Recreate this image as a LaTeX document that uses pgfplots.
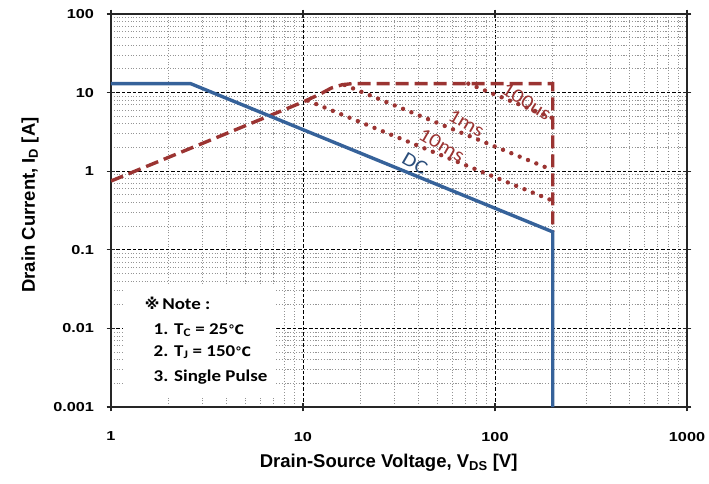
\documentclass[border=0pt]{standalone}
\usepackage{fontspec}
\setmainfont{Liberation Sans}
\newfontfamily\tickfont[FakeStretch=1.25]{Liberation Sans}
\newfontfamily\notefont[FakeStretch=1.15]{Carlito}
\newfontfamily\lblfont[FakeStretch=1.15]{Carlito}
\newfontfamily\symfont{DejaVu Sans}
\usepackage{pgfplots}
\pgfplotsset{compat=1.18}
\definecolor{dcblue}{RGB}{54,98,154}
\definecolor{soared}{RGB}{155,52,50}
\begin{document}
\begin{tikzpicture}
\begin{axis}[
  name=main,
  scale only axis,
  width=576pt, height=393pt,
  xmode=log, ymode=log,
  xmin=1, xmax=1000, ymin=0.001, ymax=100,
  xtick={1,10,100,1000},
  xticklabels={1,10,100,1000},
  ytick={0.001,0.01,0.1,1,10,100},
  yticklabels={0.001,0.01,0.1,1,10,100},
  minor xtick={2,3,4,5,6,7,8,9,20,30,40,50,60,70,80,90,200,300,400,500,600,700,800,900},
  minor ytick={0.002,0.003,0.004,0.005,0.006,0.007,0.008,0.009,0.02,0.03,0.04,0.05,0.06,0.07,0.08,0.09,0.2,0.3,0.4,0.5,0.6,0.7,0.8,0.9,2,3,4,5,6,7,8,9,20,30,40,50,60,70,80,90},
  grid=both,
  major grid style={black, line width=0.8pt, dash pattern=on 3.5pt off 2pt},
  minor grid style={black!42, line width=0.9pt, dash pattern=on 1.1pt off 1.7pt},
  axis line style={black!85, line width=1.2pt},
  tick align=center,
  major tick length=9pt,
  minor tick length=0pt,
  tick style={black!85, line width=1.2pt},
  xticklabel style={font=\tickfont\bfseries\fontsize{13}{15}\selectfont, yshift=-17pt},
  yticklabel style={font=\tickfont\bfseries\fontsize{13}{15}\selectfont, xshift=-9pt},
  xlabel={Drain-Source Voltage, V\textsubscript{DS} [V]},
  ylabel={Drain Current, I\textsubscript{D} [A]},
  label style={font=\bfseries\fontsize{18.5}{20}\selectfont},
  xlabel style={at={(axis description cs:0.482,-0.1425)}, anchor=center},
  ylabel style={at={(axis description cs:-0.1406,0.514)}, anchor=center},
]
% SOA envelope (100us)
\addplot[soared, line width=3.4pt, dash pattern=on 13pt off 6pt] coordinates {
  (1,0.75) (10,7.6) (12.3,9.6) (14,11.4) (16,12.6) (18,13) (200,13) (200,0.169)};
% 100us diagonal
\addplot[soared, line width=4.4pt, line cap=round, dash pattern=on 0pt off 9pt] coordinates {
  (72.6,13) (200,4.72)};
% 1ms
\addplot[soared, line width=4.4pt, line cap=round, dash pattern=on 0pt off 9pt] coordinates {
  (16.5,12.5) (200,1.03)};
% 10ms
\addplot[soared, line width=4.4pt, line cap=round, dash pattern=on 0pt off 9pt] coordinates {
  (10.6,7.9) (200,0.42)};
% DC
\addplot[dcblue, line width=3.4pt] coordinates {
  (1,13) (2.6,13) (200,0.169) (200,0.001)};
% labels
\node[soared, inner sep=0pt, rotate=-32, font=\lblfont\fontsize{19.5}{21}\selectfont] at (axis cs:146,7.66) {100us};
\node[soared, inner sep=0pt, rotate=-30, font=\lblfont\fontsize{19.5}{21}\selectfont] at (axis cs:71,4.06) {1ms};
\node[soared, inner sep=0pt, rotate=-30, font=\lblfont\fontsize{19.5}{21}\selectfont] at (axis cs:52.8,2.15) {10ms};
\node[dcblue!80!black, inner sep=0pt, rotate=-30, font=\lblfont\fontsize{19.5}{21}\selectfont] at (axis cs:38.3,1.26) {DC};
% note box
\fill[white] (axis cs:1.16,0.00134) rectangle (axis cs:7.2,0.0355);
\node[anchor=west, font=\notefont\bfseries\fontsize{16.5}{18}\selectfont] at (axis cs:1.44,0.021) {{\symfont\fontsize{15}{17}\selectfont ※}\,Note :};
\node[anchor=west, font=\notefont\bfseries\fontsize{16.5}{18}\selectfont] at (axis cs:1.6,0.00955) {1. T\textsubscript{C} = 25{\symfont\fontsize{13}{15}\selectfont ℃}};
\node[anchor=west, font=\notefont\bfseries\fontsize{16.5}{18}\selectfont] at (axis cs:1.6,0.00501) {2. T\textsubscript{J} = 150{\symfont\fontsize{13}{15}\selectfont ℃}};
\node[anchor=west, font=\notefont\bfseries\fontsize{16.5}{18}\selectfont] at (axis cs:1.6,0.00241) {3. Single Pulse};
\end{axis}
\pgfresetboundingbox
\path[use as bounding box] ([shift={(-111pt,-76pt)}]main.south west) rectangle ([shift={(22pt,14pt)}]main.north east);
\end{tikzpicture}
\end{document}
